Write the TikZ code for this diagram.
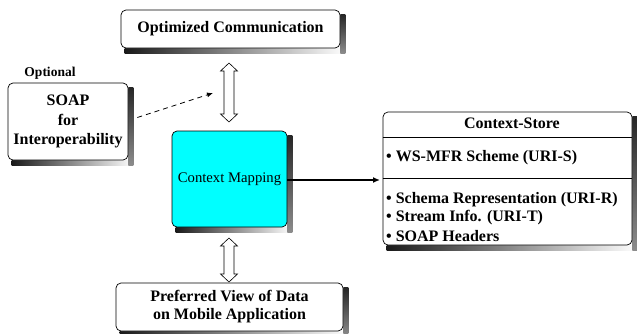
\documentclass[tikz,border=0pt]{standalone}
\usepackage{fontspec}
\setmainfont{Liberation Serif}
\usetikzlibrary{calc,arrows.meta}
\definecolor{mapfill}{RGB}{0,255,255}
\pgfdeclarelayer{background}
\pgfsetlayers{background,main}
\begin{document}
\begin{tikzpicture}[x=1pt,y=-1pt,
  box/.style={draw=black, line width=0.7pt, rounded corners=5pt, fill=white,
    inner sep=0pt, align=center, font=\bfseries\fontsize{16}{19}\selectfont},
  lbl/.style={inner sep=0pt, font=\bfseries\fontsize{16}{18}\selectfont},
  flow/.style={line width=1.6pt, -{Latex[length=7pt,width=6pt]}},
  hollow/.pic={
    \draw[line width=0.6pt, fill=white]
      (0,0) -- (8.5,8) -- (5,8) -- (5,#1-8) -- (8.5,#1-8) -- (0,#1)
      -- (-8.5,#1-8) -- (-5,#1-8) -- (-5,8) -- (-8.5,8) -- cycle;
  }]
\useasboundingbox (0,0) rectangle (637,333);

% boxes
\node[box, minimum width=219pt, minimum height=38pt] (top) at (230.5,29)
  {Optimized Communication};
\node[box, minimum width=120pt, minimum height=77pt,
  font=\bfseries\fontsize{16}{19.5}\selectfont] (soap) at (68,121.5)
  {SOAP\\for\\Interoperability};
\node[inner sep=0pt, font=\bfseries\fontsize{13.5}{15}\selectfont] (opt) at (50,73) {Optional};
\node[box, fill=mapfill, minimum width=115pt, minimum height=96pt,
  font=\fontsize{14.7}{17}\selectfont] (cm) at (229.5,179) {Context Mapping};
\node[box, minimum width=249pt, minimum height=133pt] (store) at (507.5,178.5) {};
\node[box, minimum width=227pt, minimum height=48pt,
  font=\bfseries\fontsize{16}{18}\selectfont] (bottom) at (229.5,307)
  {Preferred View of Data\\on Mobile Application};

% compartments of the store
\draw[line width=0.7pt] ($(store.north west)+(0,26)$) -- ($(store.north east)+(0,26)$);
\draw[line width=0.7pt] ($(store.north west)+(0,67)$) -- ($(store.north east)+(0,67)$);
\node[lbl] (st) at (512,123) {Context-Store};
\node[lbl, anchor=west] (s1) at (386,158) {• WS-MFR Scheme (URI-S)};
\node[lbl, anchor=west] (s2) at (386,200) {• Schema Representation (URI-R)};
\node[lbl, anchor=west] (s3) at (386,218) {• Stream Info. (URI-T)};
\node[lbl, anchor=west] (s4) at (386,236) {• SOAP Headers};

% gradient shadows
\begin{pgfonlayer}{background}
\foreach \n in {top,soap,cm,store,bottom}{
  \shade[left color=black!90, right color=white]
    ($(\n.south west)+(4,0)$) rectangle ($(\n.south east)+(5,5)$);
  \shade[top color=black!85, bottom color=black!45]
    ($(\n.north east)+(0,5)$) rectangle ($(\n.south east)+(5,5)$);
}
\end{pgfonlayer}

% connectors
\coordinate (storein) at (380,180);
\draw[flow] (cm.east |- storein) -- (storein);
\coordinate (dashend) at (213,93);
\draw[line width=0.8pt, dash pattern=on 5pt off 4pt, -{Latex[length=6pt,width=5pt]}]
  ($(soap.east)+(9,-4)$) -- (dashend);
\coordinate (ua) at (229,63);
\coordinate (la) at (229,238);
\pic at (ua) {hollow=59};
\pic at (la) {hollow=44};
\end{tikzpicture}
\end{document}
